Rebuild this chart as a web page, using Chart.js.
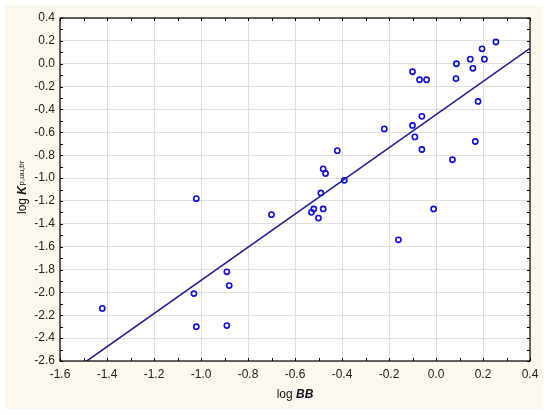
<!DOCTYPE html>
<html>
<head>
<meta charset="utf-8">
<script src="https://cdn.jsdelivr.net/npm/chart.js@4"></script>
<style>
  html, body { margin: 0; padding: 0; background: #ffffff; }
  #wrap { width: 550px; height: 415px; position: relative; }
</style>
</head>
<body>
<div id="wrap"><canvas id="c" width="550" height="415"></canvas></div>
<script>
// ---- data ----
const logBB = [-1.42, -1.03, -1.02, -1.02, -0.89, -0.88, -0.89, -0.70,
  -0.53, -0.52, -0.50, -0.48, -0.49, -0.48, -0.47, -0.42, -0.39,
  -0.22, -0.16, -0.10, -0.07, -0.04, -0.10, -0.06, -0.09, -0.06,
  -0.01, 0.07, 0.085, 0.087, 0.146, 0.157, 0.167, 0.179, 0.196, 0.206, 0.255];
const logKp = [-2.14, -2.01, -2.30, -1.18, -1.82, -1.94, -2.29, -1.32,
  -1.30, -1.27, -1.35, -1.27, -1.13, -0.92, -0.96, -0.76, -1.02,
  -0.57, -1.54, -0.07, -0.14, -0.14, -0.54, -0.46, -0.64, -0.75,
  -1.27, -0.84, -0.13, 0.00, 0.04, -0.04, -0.68, -0.33, 0.13, 0.04, 0.19];
const fitX = [-1.6, 0.4];
const fitY = [-2.765, 0.135];
const xTicks = [-1.6, -1.4, -1.2, -1.0, -0.8, -0.6, -0.4, -0.2, 0.0, 0.2, 0.4];
const yTicks = [-2.6, -2.4, -2.2, -2.0, -1.8, -1.6, -1.4, -1.2, -1.0, -0.8, -0.6, -0.4, -0.2, 0.0, 0.2, 0.4];

const FONT = '"Liberation Sans", Arial, sans-serif';
const fmt = v => (Math.abs(v) < 1e-9 ? '0.0' : Number(v).toFixed(1));

const framePlugin = {
  id: 'frame',
  beforeDraw(chart) {
    const ctx = chart.ctx;
    ctx.save();
    ctx.fillStyle = '#ffffff';
    ctx.fillRect(0, 0, chart.width, chart.height);
    ctx.fillStyle = '#fcf8ee';
    ctx.fillRect(5, 5, 538, 404);
    const a = chart.chartArea;
    ctx.fillStyle = '#ffffff';
    ctx.fillRect(a.left, a.top, a.right - a.left, a.bottom - a.top);
    ctx.restore();
  },
  afterDraw(chart) {
    const ctx = chart.ctx;
    const a = chart.chartArea;
    const xs = chart.scales.x, ys = chart.scales.y;
    ctx.save();
    ctx.strokeStyle = '#000000';
    ctx.lineWidth = 1.2;
    ctx.strokeRect(a.left, a.top, a.right - a.left, a.bottom - a.top);
    ctx.lineWidth = 1;
    ctx.beginPath();
    // inward tick marks every 0.1
    for (let i = 0; i <= 20; i++) {
      const v = xTicks[0] + i * 0.1;
      const px = Math.round(xs.getPixelForValue(v)) + 0.5;
      ctx.moveTo(px, a.bottom); ctx.lineTo(px, a.bottom - 3);
      ctx.moveTo(px, a.top); ctx.lineTo(px, a.top + 3);
    }
    for (let i = 0; i <= 30; i++) {
      const v = yTicks[0] + i * 0.1;
      const py = Math.round(ys.getPixelForValue(v)) + 0.5;
      ctx.moveTo(a.left, py); ctx.lineTo(a.left + 3, py);
      ctx.moveTo(a.right, py); ctx.lineTo(a.right - 3, py);
    }
    ctx.stroke();

    // x-axis title: "log BB"
    ctx.fillStyle = '#111111';
    ctx.textBaseline = 'alphabetic';
    const f1 = '12px ' + FONT, f2 = 'italic bold 12px ' + FONT;
    ctx.font = f1; const w1 = ctx.measureText('log ').width;
    ctx.font = f2; const w2 = ctx.measureText('BB').width;
    const cx = (a.left + a.right) / 2;
    let x0 = cx - (w1 + w2) / 2;
    ctx.font = f1; ctx.fillText('log ', x0, 398);
    ctx.font = f2; ctx.fillText('BB', x0 + w1, 398);

    // y-axis title: "log K p,uu,br"
    ctx.translate(26, 214);
    ctx.rotate(-Math.PI / 2);
    ctx.font = f1; ctx.fillText('log ', 0, 0);
    ctx.font = f2; const wK = ctx.measureText('K').width;
    ctx.fillText('K', w1, 0);
    ctx.font = '8px ' + FONT;
    ctx.fillText('p,uu,br', w1 + wK + 0.5, -2);
    ctx.restore();
  }
};

const pts = logBB.map((x, i) => ({ x: x, y: logKp[i] }));
const fit = fitX.map((x, i) => ({ x: x, y: fitY[i] }));

new Chart(document.getElementById('c'), {
  type: 'scatter',
  data: {
    datasets: [
      {
        label: 'fit',
        data: fit,
        showLine: true,
        borderColor: '#1e1e8a',
        borderWidth: 1.6,
        pointRadius: 0,
        fill: false,
        order: 2
      },
      {
        label: 'data',
        data: pts,
        borderColor: '#1010c8',
        backgroundColor: 'rgba(0,0,0,0)',
        pointRadius: 2.6,
        pointBorderWidth: 1.6,
        pointHoverRadius: 2.6,
        order: 1
      }
    ]
  },
  options: {
    responsive: false,
    animation: false,
    devicePixelRatio: 1,
    layout: { padding: { left: 0, top: 18, right: 20, bottom: 0 } },
    plugins: { legend: { display: false }, tooltip: { enabled: false } },
    scales: {
      x: {
        type: 'linear',
        min: xTicks[0], max: xTicks[xTicks.length - 1],
        afterBuildTicks: s => { s.ticks = xTicks.map(v => ({ value: v })); },
        afterFit: s => { s.height = 54; },
        grid: { color: '#dedede', lineWidth: 1, drawTicks: false },
        border: { display: false },
        ticks: {
          padding: 6,
          color: '#222222',
          font: { family: FONT, size: 12 },
          maxRotation: 0,
          callback: v => fmt(v)
        }
      },
      y: {
        type: 'linear',
        min: yTicks[0], max: yTicks[yTicks.length - 1],
        afterBuildTicks: s => { s.ticks = yTicks.map(v => ({ value: v })); },
        afterFit: s => { s.width = 60; },
        grid: { color: '#dedede', lineWidth: 1, drawTicks: false },
        border: { display: false },
        ticks: {
          padding: 5,
          color: '#222222',
          font: { family: FONT, size: 12 },
          callback: v => fmt(v)
        }
      }
    }
  },
  plugins: [framePlugin]
});
</script>
</body>
</html>
